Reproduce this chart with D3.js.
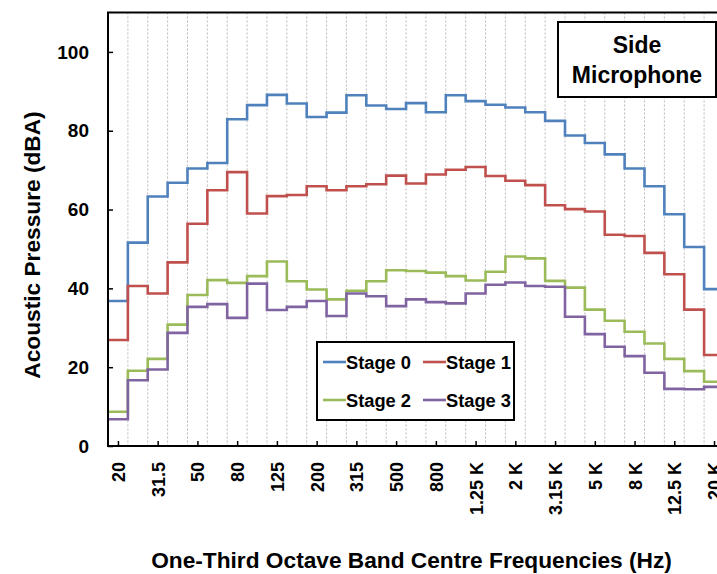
<!DOCTYPE html>
<html>
<head>
<meta charset="utf-8">
<script src="https://cdn.jsdelivr.net/npm/d3@7"></script>
<style>
  html, body { margin: 0; padding: 0; background: #fff; }
  svg { display: block; font-family: "Liberation Sans", Arial, sans-serif; }
</style>
</head>
<body>
<svg id="chart" width="717" height="574"></svg>
<script>
// One-third octave band centre frequencies (Hz) and their axis labels
const bands = ["20","25","31.5","40","50","63","80","100","125","160","200","250","315","400","500","630",
               "800","1 K","1.25 K","1.6 K","2 K","2.5 K","3.15 K","4 K","5 K","6.3 K","8 K","10 K","12.5 K","16 K","20 K"];

// Acoustic pressure per band (dBA), side microphone
const stage0 = [36.8,51.6,63.3,66.8,70.4,71.8,82.9,86.5,89.1,86.9,83.5,84.6,89.0,86.4,85.5,87.0,
                84.7,89.0,87.5,86.6,85.9,84.7,82.5,78.8,76.9,74.0,70.4,65.9,58.8,50.5,39.8];
const stage1 = [26.9,40.6,38.7,46.6,56.4,64.9,69.5,59.0,63.4,63.7,65.9,64.9,65.9,66.4,68.6,66.6,
                68.9,70.1,70.8,68.5,67.3,66.2,61.1,60.1,59.5,53.6,53.3,49.0,43.6,34.6,23.1];
const stage2 = [8.7,19.1,22.1,30.8,38.3,42.1,41.4,43.1,46.8,41.8,39.7,37.2,39.4,41.8,44.6,44.4,
                44.0,43.1,42.0,44.2,48.1,47.6,41.9,40.2,34.6,31.8,29.0,26.0,22.1,19.0,16.3];
const stage3 = [6.8,16.7,19.4,28.7,35.3,36.0,32.5,41.2,34.5,35.3,36.8,33.0,38.7,38.0,35.5,37.2,
                36.5,36.2,38.7,40.9,41.5,40.6,40.4,32.8,28.4,25.2,22.8,18.6,14.5,14.4,15.0];

const seriesNames = ["Stage 0","Stage 1","Stage 2","Stage 3"];
const seriesColors = ["#4F81BD","#C0504D","#9BBB59","#8064A2"];
const yTicks = [0,20,40,60,80,100];

const series = [stage0, stage1, stage2, stage3].map((values, k) => ({
  name: seriesNames[k], color: seriesColors[k], values
}));

const svg = d3.select("#chart");
const plotLeft = 108, plotTop = 12.5, plotBottom = 446;
const bandW = 19.87;
const plotRight = plotLeft + bands.length * bandW;

const x = d3.scaleLinear().domain([0, bands.length]).range([plotLeft, plotRight]);
const y = d3.scaleLinear().domain([0, 110]).range([plotBottom, plotTop]);

const plot = svg.append("g");

// dotted band boundaries
plot.append("g").selectAll("line")
  .data(d3.range(1, bands.length))
  .join("line")
  .attr("x1", d => x(d)).attr("x2", d => x(d))
  .attr("y1", plotTop).attr("y2", plotBottom)
  .attr("stroke", "#b8b8b8").attr("stroke-width", 1)
  .attr("stroke-dasharray", "2,2");

// stepped band levels: each value spans its whole band
const line = d3.line()
  .x(d => x(d[0]))
  .y(d => y(d[1]))
  .curve(d3.curveStepAfter);

plot.append("g").selectAll("path")
  .data(series)
  .join("path")
  .attr("fill", "none")
  .attr("stroke", d => d.color)
  .attr("stroke-width", 2.6)
  .attr("d", d => line(d.values.map((v, i) => [i, v]).concat([[d.values.length, d.values[d.values.length - 1]]])));

// x axis: labelled every other band, ticks pointing inward
const xAxis = d3.axisBottom(x)
  .tickValues(d3.range(0, bands.length, 2).map(i => i + 0.5))
  .tickFormat(v => bands[Math.floor(v)])
  .tickSizeInner(-5).tickSizeOuter(0).tickPadding(0);

const gx = svg.append("g").attr("transform", `translate(0,${plotBottom})`).call(xAxis);
gx.select(".domain").remove();
gx.selectAll(".tick line").attr("stroke", "#000").attr("stroke-width", 1.5);
gx.selectAll(".tick text")
  .attr("transform", "rotate(-90)")
  .attr("x", -16).attr("y", 0).attr("dy", "0.36em")
  .attr("text-anchor", "end")
  .attr("font-size", 18).attr("font-weight", "bold").attr("fill", "#000");

// y axis
const yAxis = d3.axisLeft(y).tickValues(yTicks).tickSizeInner(-5).tickSizeOuter(0).tickPadding(19);
const gy = svg.append("g").attr("transform", `translate(${plotLeft},0)`).call(yAxis);
gy.select(".domain").remove();
gy.selectAll(".tick line").attr("stroke", "#000").attr("stroke-width", 1.5);
gy.selectAll(".tick text")
  .attr("font-size", 19).attr("font-weight", "bold").attr("fill", "#000");

// plot frame
svg.append("rect")
  .attr("x", plotLeft).attr("y", plotTop)
  .attr("width", plotRight - plotLeft).attr("height", plotBottom - plotTop)
  .attr("fill", "none").attr("stroke", "#000").attr("stroke-width", 2);

// axis titles
svg.append("text")
  .attr("x", 411.5).attr("y", 568)
  .attr("text-anchor", "middle")
  .attr("font-size", 22.7).attr("font-weight", "bold")
  .text("One-Third Octave Band Centre Frequencies (Hz)");

svg.append("text")
  .attr("transform", "translate(40,245) rotate(-90)")
  .attr("text-anchor", "middle")
  .attr("font-size", 22.7).attr("font-weight", "bold")
  .text("Acoustic Pressure (dBA)");

// legend
const lg = svg.append("g");
lg.append("rect")
  .attr("x", 317).attr("y", 342).attr("width", 197).attr("height", 78)
  .attr("fill", "#fff").attr("stroke", "#000").attr("stroke-width", 2);
const items = lg.selectAll("g.item").data(series).join("g")
  .attr("class", "item")
  .attr("transform", (d, i) => `translate(${i % 2 === 0 ? 323 : 423},${i < 2 ? 362 : 400})`);
items.append("line")
  .attr("x1", 0).attr("x2", 23).attr("y1", 0).attr("y2", 0)
  .attr("stroke", d => d.color).attr("stroke-width", 2.6);
items.append("text")
  .attr("x", 23).attr("y", 0).attr("dy", "0.36em")
  .attr("font-size", 18.3).attr("font-weight", "bold")
  .text(d => d.name);

// panel label
const pl = svg.append("g");
pl.append("rect")
  .attr("x", 558).attr("y", 22).attr("width", 158).attr("height", 75)
  .attr("fill", "#fff").attr("stroke", "#000").attr("stroke-width", 2);
pl.append("text").attr("x", 637).attr("y", 53).attr("text-anchor", "middle")
  .attr("font-size", 23).attr("font-weight", "bold").text("Side");
pl.append("text").attr("x", 637).attr("y", 83).attr("text-anchor", "middle")
  .attr("font-size", 23).attr("font-weight", "bold").text("Microphone");
</script>
</body>
</html>
